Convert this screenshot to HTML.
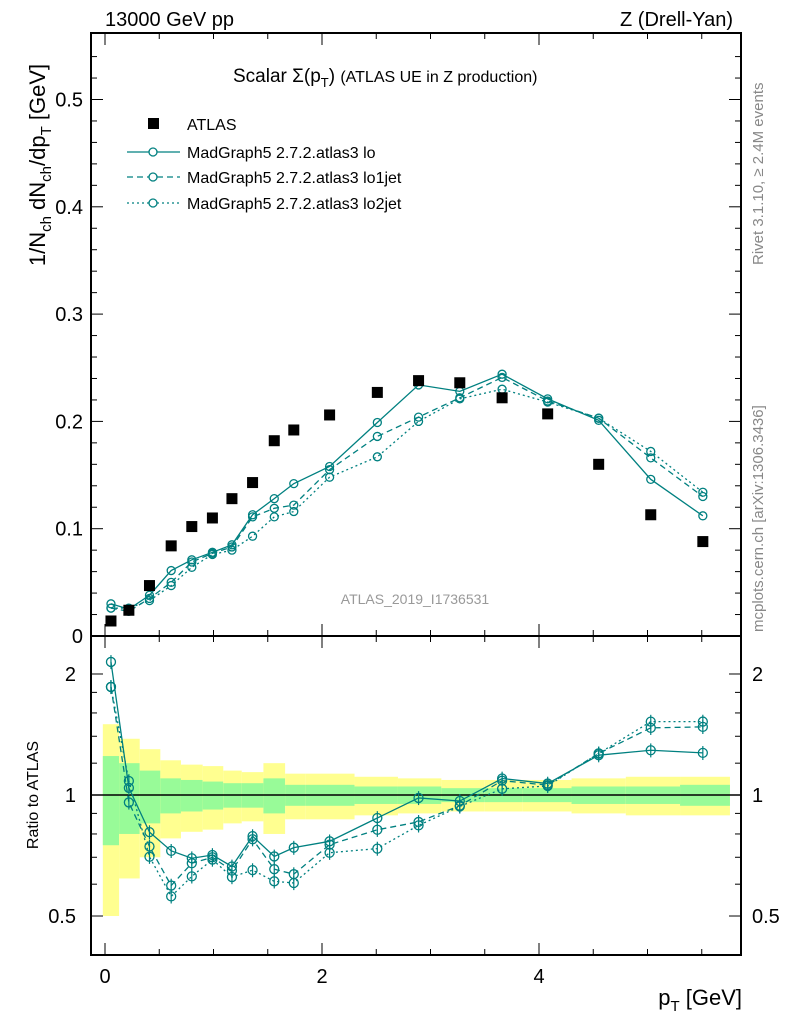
<!DOCTYPE html>
<html><head><meta charset="utf-8"><style>
body{margin:0;background:#fff;}
svg{display:block;font-family:"Liberation Sans",Arial,sans-serif;}
</style></head><body>
<svg id="c" width="786" height="1024" viewBox="0 0 786 1024"></svg>
<script>
const xs=[0.055,0.22,0.41,0.61,0.8,0.99,1.17,1.36,1.56,1.74,2.07,2.51,2.89,3.27,3.66,4.08,4.55,5.03,5.51];
const edges=[-0.02,0.13,0.32,0.51,0.7,0.9,1.09,1.26,1.46,1.66,1.85,2.3,2.7,3.1,3.5,3.85,4.3,4.8,5.3,5.76];
const atlas=[0.014,0.024,0.047,0.084,0.102,0.11,0.128,0.143,0.182,0.192,0.206,0.227,0.238,0.236,0.222,0.207,0.16,0.113,0.088];
const lo=[0.030,0.025,0.038,0.061,0.071,0.078,0.085,0.113,0.128,0.142,0.158,0.199,0.234,0.228,0.244,0.221,0.201,0.146,0.112];
const lo1=[0.026,0.023,0.035,0.05,0.069,0.077,0.083,0.111,0.119,0.122,0.155,0.186,0.204,0.222,0.241,0.219,0.203,0.166,0.13];
const lo2=[0.026,0.026,0.033,0.047,0.064,0.076,0.08,0.093,0.111,0.116,0.148,0.167,0.2,0.221,0.23,0.218,0.203,0.172,0.134];
const yErr=[0.5,0.38,0.3,0.22,0.19,0.18,0.15,0.14,0.2,0.13,0.13,0.11,0.1,0.09,0.09,0.09,0.1,0.11,0.11];
const gErr=[0.25,0.2,0.15,0.1,0.09,0.08,0.07,0.07,0.1,0.06,0.06,0.05,0.05,0.04,0.04,0.04,0.05,0.05,0.06];
const mTicks=[0,0.1,0.2,0.3,0.4,0.5];
const rTicks=[0.5,1,2];
const xTicks=[0,2,4];

const S=document.getElementById('c'),NS='http://www.w3.org/2000/svg';
function el(t,a,p){const e=document.createElementNS(NS,t);for(const k in a)e.setAttribute(k,a[k]);(p||S).appendChild(e);return e;}
const X=v=>105+108.5*v, Ym=v=>636-1073*v, Yr=v=>795-402*Math.log10(v);
const L=91,R=741,T=33,MB=636,RB=955,C='#008080';

const bands=el('g',{});
for(let i=0;i<xs.length;i++){
 const x0=X(edges[i]),x1=X(edges[i+1]);
 let r=el('rect',{x:x0,y:Yr(1+yErr[i]),width:x1-x0,height:Yr(Math.max(1-yErr[i],0.45))-Yr(1+yErr[i]),fill:'#ffff90'},bands);
 
 r=el('rect',{x:x0,y:Yr(1+gErr[i]),width:x1-x0,height:Yr(1-gErr[i])-Yr(1+gErr[i]),fill:'#98fb98'},bands);
 
}
el('line',{x1:L,x2:R,y1:Yr(1),y2:Yr(1),stroke:'#000','stroke-width':1.5});

let f=el('rect',{x:L,y:T,width:R-L,height:MB-T,fill:'none',stroke:'#000','stroke-width':2});

f=el('rect',{x:L,y:MB,width:R-L,height:RB-MB,fill:'none',stroke:'#000','stroke-width':2});


for(let v=0;v<=5.8;v+=0.5){const maj=Math.abs(v%2)<1e-6;const x=X(v);const h=maj?12:6;
 [[MB,-1],[T,1],[RB,-1],[MB,1]].forEach(([y,d])=>el('line',{x1:x,x2:x,y1:y,y2:y+d*h,stroke:'#000','stroke-width':1}));}
xTicks.forEach(v=>{const t=el('text',{x:X(v),y:983,'font-size':20,'text-anchor':'middle'});t.textContent=v;});
for(let v=0;v<=0.56;v+=0.02){const maj=Math.round(v*100)%10===0;const y=Ym(v);if(y<T)break;const h=maj?12:6;
 el('line',{x1:L,x2:L+h,y1:y,y2:y,stroke:'#000'});el('line',{x1:R,x2:R-h,y1:y,y2:y,stroke:'#000'});}
mTicks.forEach(v=>{const t=el('text',{x:83,y:Ym(v)+7,'font-size':20,'text-anchor':'end'});t.textContent=v===0?'0':v.toFixed(1);});
[0.4,0.5,0.6,0.7,0.8,0.9,1,2].forEach(v=>{const y=Yr(v);if(y>RB)return;const h=rTicks.includes(v)?12:6;
 el('line',{x1:L,x2:L+h,y1:y,y2:y,stroke:'#000'});el('line',{x1:R,x2:R-h,y1:y,y2:y,stroke:'#000'});});
[1.2,1.4,1.6,1.8].forEach(v=>{const y=Yr(v);el('line',{x1:L,x2:L+6,y1:y,y2:y,stroke:'#000'});el('line',{x1:R,x2:R-6,y1:y,y2:y,stroke:'#000'});});
rTicks.forEach(v=>{[[76,'end'],[752,'start']].forEach(([x,a])=>{const t=el('text',{x:x,y:Yr(v)+7,'font-size':20,'text-anchor':a});t.textContent=v;});});

const series=[[lo,'none','lo'],[lo1,'6,4','lo1jet'],[lo2,'2,3','lo2jet']];
series.forEach(([d,da,nm])=>{
 const g=el('g',{});
 el('polyline',{points:xs.map((x,i)=>X(x)+','+Ym(d[i])).join(' '),fill:'none',stroke:C,'stroke-width':1.3,'stroke-dasharray':da},g);
 el('polyline',{points:xs.map((x,i)=>X(x)+','+Yr(d[i]/atlas[i])).join(' '),fill:'none',stroke:C,'stroke-width':1.3,'stroke-dasharray':da},g);
 xs.forEach((x,i)=>{
  let c=el('circle',{cx:X(x),cy:Ym(d[i]),r:4,fill:'none',stroke:C,'stroke-width':1.3},g);
  
  const r=d[i]/atlas[i];
  el('line',{x1:X(x),x2:X(x),y1:Yr(r*1.04),y2:Yr(r*0.96),stroke:C,'stroke-width':1.2},g);
  c=el('circle',{cx:X(x),cy:Yr(r),r:4.5,fill:'none',stroke:C,'stroke-width':1.3},g);
  
 });
});
const ag=el('g',{});
xs.forEach((x,i)=>{const r=el('rect',{x:X(x)-5.5,y:Ym(atlas[i])-5.5,width:11,height:11,fill:'#000'},ag);});

function txt(s,a,n){const t=el('text',a);t.textContent=s;return t;}
txt('13000 GeV pp',{x:105,y:26,'font-size':20},'header-left');
txt('Z (Drell-Yan)',{x:733,y:26,'font-size':20,'text-anchor':'end'},'header-right');
const tt=txt('',{x:233,y:82,'font-size':19},'plot-title');
tt.innerHTML='Scalar Σ(p<tspan font-size="13" dy="5">T</tspan><tspan dy="-5">) </tspan><tspan font-size="16">(ATLAS UE in Z production)</tspan>';
const yl=txt('',{x:0,y:0,'font-size':22,transform:'translate(45,165) rotate(-90)','text-anchor':'middle'},'y-axis-title');
yl.innerHTML='1/N<tspan font-size="15" dy="6">ch</tspan><tspan dy="-6"> dN</tspan><tspan font-size="15" dy="6">ch</tspan><tspan dy="-6">/dp</tspan><tspan font-size="15" dy="6">T</tspan><tspan dy="-6"> [GeV]</tspan>';
txt('Ratio to ATLAS',{x:0,y:0,'font-size':16,transform:'translate(38,795) rotate(-90)','text-anchor':'middle'},'ratio-axis-title');
const xl=txt('',{x:742,y:1005,'font-size':22,'text-anchor':'end'},'x-axis-title');
xl.innerHTML='p<tspan font-size="15" dy="6">T</tspan><tspan dy="-6"> [GeV]</tspan>';
txt('ATLAS_2019_I1736531',{x:415,y:604,'font-size':14,fill:'#999','text-anchor':'middle'},'analysis-id');
txt('Rivet 3.1.10, ≥ 2.4M events',{x:0,y:0,'font-size':15,fill:'#888',transform:'translate(763,265) rotate(-90)'},'rivet-label');
txt('mcplots.cern.ch [arXiv:1306.3436]',{x:0,y:0,'font-size':15,fill:'#888',transform:'translate(763,632) rotate(-90)'},'mcplots-label');
const lg=el('g',{});
el('rect',{x:148,y:118,width:11,height:11,fill:'#000'},lg);
txt('ATLAS',{x:187,y:130,'font-size':16},'legend-atlas');
[['none','MadGraph5 2.7.2.atlas3 lo',152],['6,4','MadGraph5 2.7.2.atlas3 lo1jet',177],['2,3','MadGraph5 2.7.2.atlas3 lo2jet',203]].forEach(([da,s,y])=>{
 el('line',{x1:127,x2:180,y1:y,y2:y,stroke:C,'stroke-width':1.3,'stroke-dasharray':da},lg);
 el('circle',{cx:153,cy:y,r:4,fill:'#fff',stroke:C,'stroke-width':1.3},lg);
 txt(s,{x:187,y:y+6,'font-size':16},'legend-entry');
});
</script>
</body></html>
